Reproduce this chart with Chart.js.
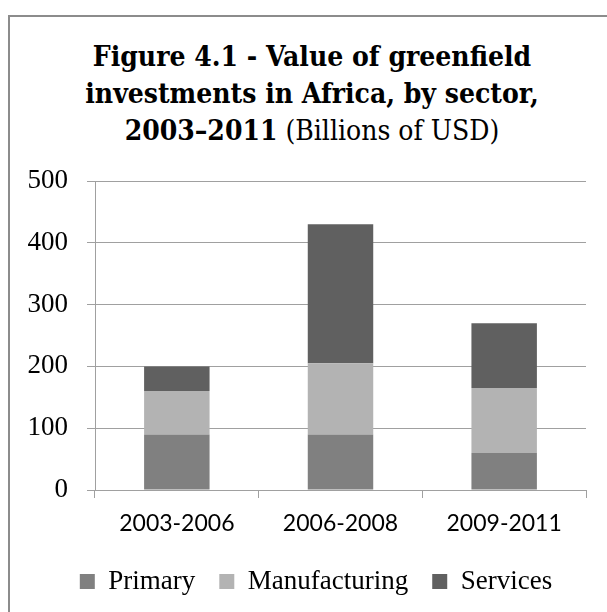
<!DOCTYPE html>
<html>
<head>
<meta charset="utf-8">
<script src="https://cdn.jsdelivr.net/npm/chart.js@4"></script>
<style>
  html, body { margin: 0; padding: 0; overflow: hidden; background: #fff; }
  #frame { position: absolute; left: 8px; top: 15px; width: 700px; height: 700px; border: 2px solid #8c8c8c; }
  #title { position: absolute; left: 16px; top: 38px; width: 592px; text-align: center;
           font-family: "DejaVu Serif Condensed", "Liberation Serif", serif; font-size: 28px; line-height: 37px; color: #000; }
  #title b { font-weight: bold; }
  #wrap { position: absolute; left: 0; top: 0; width: 607px; height: 612px; }
</style>
</head>
<body>
<div id="frame"></div>
<div id="title"><b>Figure 4.1 - Value of greenfield<br>investments in Africa, by sector,<br>2003–2011</b> (Billions of USD)</div>
<div id="wrap"><canvas id="chart" width="607" height="612"></canvas></div>
<script>
  // periods on the x axis
  const periods = ['2003-2006', '2006-2008', '2009-2011'];
  // values per sector, billions of USD
  const primary = [90, 90, 60];
  const manufacturing = [70, 115, 105];
  const services = [40, 225, 105];
  const yTicks = [0, 100, 200, 300, 400, 500];

  const serif = '"Liberation Serif", serif';
  const gridGrey = '#a0a0a0';

  // legend sits a bit right of the plot centre in the original
  const shiftLegend = {
    id: 'shiftLegend',
    afterLayout(chart) {
      chart.legend.left += 23;
      chart.legend.right += 23;
    }
  };

  const ctx = document.getElementById('chart').getContext('2d');
  const chart = new Chart(ctx, {
    type: 'bar',
    data: {
      labels: periods,
      datasets: [
        { label: 'Primary', data: primary, backgroundColor: '#808080' },
        { label: 'Manufacturing', data: manufacturing, backgroundColor: '#b3b3b3' },
        { label: 'Services', data: services, backgroundColor: '#606060' }
      ]
    },
    options: {
      responsive: false,
      animation: false,
      layout: { padding: { top: 181, left: 0, right: 21, bottom: 7 } },
      datasets: { bar: { categoryPercentage: 1, barPercentage: 0.4, borderWidth: 0 } },
      scales: {
        x: {
          stacked: true,
          grid: { drawOnChartArea: false, drawTicks: true, tickLength: 8, color: gridGrey, offset: true },
          border: { color: gridGrey, width: 1 },
          ticks: { color: '#000', font: { family: 'Lato', size: 23 }, padding: 12 },
          afterFit: s => { s.height = 54; }
        },
        y: {
          stacked: true,
          min: 0,
          max: 500,
          afterBuildTicks: s => { s.ticks = yTicks.map(v => ({ value: v })); },
          grid: { color: gridGrey, tickLength: 8 },
          border: { color: gridGrey, width: 1 },
          ticks: { color: '#000', font: { family: serif, size: 27 }, padding: 19 },
          afterFit: s => { s.width = 95; }
        }
      },
      plugins: {
        title: { display: false },
        tooltip: { enabled: false },
        legend: {
          position: 'bottom',
          labels: {
            color: '#000',
            font: { family: serif, size: 27 },
            boxWidth: 15,
            boxHeight: 15,
            padding: 24
          }
        }
      }
    },
    plugins: [shiftLegend]
  });
</script>
</body>
</html>
